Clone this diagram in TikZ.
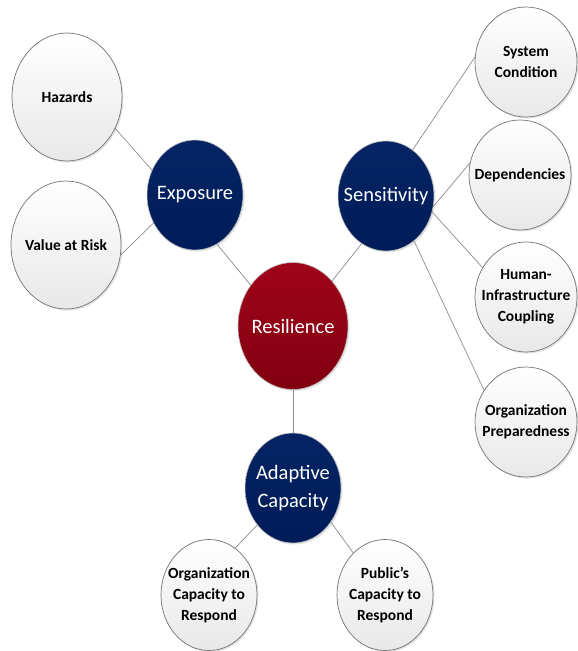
\documentclass[tikz,border=0pt]{standalone}
\usepackage{fontspec}
\setmainfont{Carlito}
\usetikzlibrary{shapes.geometric,shadows}
\definecolor{navytop}{RGB}{6,36,100}
\definecolor{navybot}{RGB}{0,28,88}
\definecolor{winetop}{RGB}{160,4,26}
\definecolor{winebot}{RGB}{128,0,16}
\definecolor{linegray}{RGB}{140,140,140}
\begin{document}
\begin{tikzpicture}[x=1pt,y=-1pt,
  base/.style={ellipse, inner xsep=-60pt, inner ysep=-40pt, outer sep=0pt, align=center,
    drop shadow={opacity=0.22, shadow xshift=1.5pt, shadow yshift=-1.5pt}},
  leaf/.style={base, draw=black!55, line width=0.7pt, top color=white, bottom color=black!9,
    text=black, font=\fontsize{15.5}{21}\selectfont\bfseries},
  bigleaf/.style={leaf, minimum width=110pt, minimum height=128pt},
  rightleaf/.style={leaf, minimum width=102pt, minimum height=110pt},
  lowleaf/.style={leaf, minimum width=96pt, minimum height=111pt},
  hub/.style={base, draw=black!25, line width=0.6pt, top color=navytop, bottom color=navybot,
    text=white, minimum width=96pt, minimum height=110pt, font=\fontsize{20.5}{28}\selectfont},
  core/.style={base, draw=black!25, line width=0.6pt, top color=winetop, bottom color=winebot,
    text=white, minimum width=110pt, minimum height=127pt, font=\fontsize{20.5}{28}\selectfont},
  link/.style={draw=linegray, line width=0.7pt}]
\useasboundingbox (0,0) rectangle (578,651);

% nodes
\node[bigleaf] (haz) at (67,97) {Hazards};
\node[bigleaf] (var) at (66,245) {Value at Risk};
\node[hub] (expo) at (195,195) {Exposure};
\node[core] (res) at (293,326) {Resilience};
\node[hub] (sens) at (386,196) {Sensitivity};
\node[hub] (adap) at (293,488) {Adaptive\\Capacity};
\node[lowleaf] (orgcap) at (209,595) {Organization\\Capacity to\\Respond};
\node[lowleaf] (pubcap) at (385,595) {Public’s\\Capacity to\\Respond};
\node[rightleaf] (sys) at (526,62) {System\\Condition};
\node[rightleaf] (dep) at (520,175) {Dependencies};
\node[rightleaf] (hum) at (526,297) {Human-\\Infrastructure\\Coupling};
\node[rightleaf] (orgprep) at (526,422) {Organization\\Preparedness};

% connectors
\draw[link] (haz.-33) -- (expo.150);
\draw[link] (var.-11) -- (expo.214);
\draw[link] (expo.-66) -- (res.136);
\draw[link] (sens.243) -- (res.49);
\draw[link] (res.270) -- (adap.90);
\draw[link] (adap.226) -- (orgcap.61);
\draw[link] (adap.-42) -- (pubcap.127);
\draw[link] (sens.60) -- (sys.174);
\draw[link] (sens.-13) -- (dep.166);
\draw[link] (sens.-19) -- (hum.146);
\draw[link] (sens.-58) -- (orgprep.143);
\end{tikzpicture}
\end{document}
